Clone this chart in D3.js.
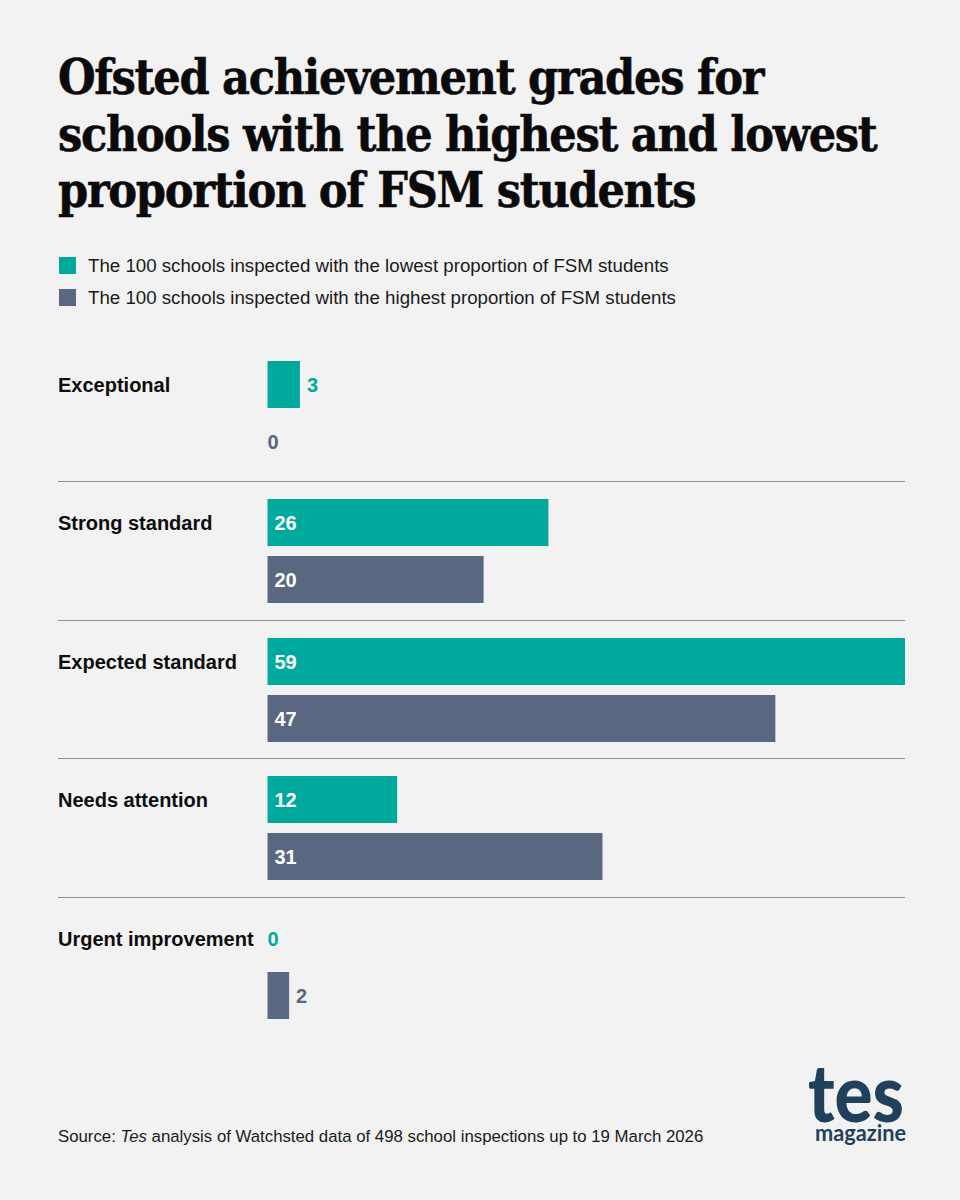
<!DOCTYPE html>
<html>
<head>
<meta charset="utf-8">
<script src="https://cdn.jsdelivr.net/npm/d3@7"></script>
<style>
  html, body { margin: 0; padding: 0; background: #f2f2f2; }
  svg { display: block; }
  text { font-family: "Liberation Sans", Arial, sans-serif; }
</style>
</head>
<body>
<div id="chart"></div>
<script>
// values
var titleLines = ["Ofsted achievement grades for", "schools with the highest and lowest", "proportion of FSM students"];
var categories = ["Exceptional", "Strong standard", "Expected standard", "Needs attention", "Urgent improvement"];
var seriesNames = [
  "The 100 schools inspected with the lowest proportion of FSM students",
  "The 100 schools inspected with the highest proportion of FSM students"
];
var lowestFsm = [3, 26, 59, 12, 0];
var highestFsm = [0, 20, 47, 31, 2];
var seriesColors = ["#00a99d", "#5a6781"];

var width = 960, height = 1200;

var svg = d3.select("#chart").append("svg")
  .attr("width", width)
  .attr("height", height);

svg.append("rect")
  .attr("width", width)
  .attr("height", height)
  .attr("fill", "#f2f2f2");

// title
svg.selectAll("text.title")
  .data(titleLines)
  .enter().append("text")
  .attr("class", "title")
  .attr("x", 58)
  .attr("y", function(d, i) { return 94 + i * 56.5; })
  .style("font-family", '"DejaVu Serif", serif')
  .style("font-stretch", "condensed")
  .style("font-size", "48px")
  .style("font-weight", 700)
  .style("letter-spacing", "-1.3px")
  .attr("fill", "#0a0a0a")
  .attr("stroke", "#0a0a0a")
  .attr("stroke-width", 0.5)
  .text(function(d) { return d; });

// legend
var legend = svg.selectAll("g.legend")
  .data(seriesNames)
  .enter().append("g")
  .attr("class", "legend")
  .attr("transform", function(d, i) { return "translate(59," + (257 + i * 32) + ")"; });

legend.append("rect")
  .attr("width", 17)
  .attr("height", 17)
  .attr("fill", function(d, i) { return seriesColors[i]; });

legend.append("text")
  .attr("x", 29)
  .attr("y", 15)
  .style("font-size", "18.7px")
  .attr("fill", "#1a1a1a")
  .text(function(d) { return d; });

// scales
var x = d3.scaleLinear().domain([0, 59]).range([267.5, 905]);
var y = d3.scaleBand().domain(categories).range([343, 1035.5]);
var ySeries = d3.scaleBand().domain([0, 1]).range([18, 122]).paddingInner(10 / 57);

// separators between the categories, snapped so they stay 1px sharp
svg.selectAll("line.sep")
  .data(categories.slice(1))
  .enter().append("line")
  .attr("class", "sep")
  .attr("x1", 58)
  .attr("x2", 905)
  .attr("y1", function(d) { return Math.floor(y(d)) + 0.5; })
  .attr("y2", function(d) { return Math.floor(y(d)) + 0.5; })
  .attr("stroke", "#8f8f8f")
  .attr("stroke-width", 1);

var rows = svg.selectAll("g.row")
  .data(categories)
  .enter().append("g")
  .attr("class", "row")
  .attr("transform", function(d) { return "translate(0," + Math.floor(y(d)) + ")"; });

rows.append("text")
  .attr("x", 58)
  .attr("y", ySeries(0) + ySeries.bandwidth() / 2)
  .attr("dy", "0.35em")
  .style("font-size", "20px")
  .style("font-weight", 700)
  .attr("fill", "#0d0d0d")
  .text(function(d) { return d; });

[lowestFsm, highestFsm].forEach(function(values, s) {
  rows.append("rect")
    .attr("x", x(0))
    .attr("y", ySeries(s))
    .attr("height", ySeries.bandwidth())
    .attr("width", function(d, i) { return x(values[i]) - x(0); })
    .attr("fill", seriesColors[s]);

  rows.append("text")
    .attr("x", function(d, i) {
      var v = values[i];
      if (v === 0) return x(0);
      return v < 5 ? x(v) + 7 : x(0) + 7;
    })
    .attr("y", ySeries(s) + ySeries.bandwidth() / 2)
    .attr("dy", "0.35em")
    .style("font-size", "20px")
    .style("font-weight", 700)
    .attr("fill", function(d, i) { return values[i] < 5 ? seriesColors[s] : "#ffffff"; })
    .text(function(d, i) { return values[i]; });
});

// source
var source = svg.append("text")
  .attr("x", 58)
  .attr("y", 1142)
  .style("font-size", "16.8px")
  .attr("fill", "#1a1a1a");
source.append("tspan").text("Source: ");
source.append("tspan").style("font-style", "italic").text("Tes");
source.append("tspan").text(" analysis of Watchsted data of 498 school inspections up to 19 March 2026");

// logo
svg.append("text")
  .attr("x", 808)
  .attr("y", 1122)
  .attr("textLength", 96)
  .attr("lengthAdjust", "spacingAndGlyphs")
  .style("font-family", 'Lato, sans-serif')
  .style("font-size", "80px")
  .style("font-weight", 900)
  .attr("fill", "#20405c")
  .text("tes");

svg.append("text")
  .attr("x", 815)
  .attr("y", 1141)
  .attr("textLength", 91)
  .attr("lengthAdjust", "spacingAndGlyphs")
  .style("font-family", 'Lato, sans-serif')
  .style("font-size", "23px")
  .style("font-weight", 700)
  .attr("fill", "#20405c")
  .text("magazine");
</script>
</body>
</html>
